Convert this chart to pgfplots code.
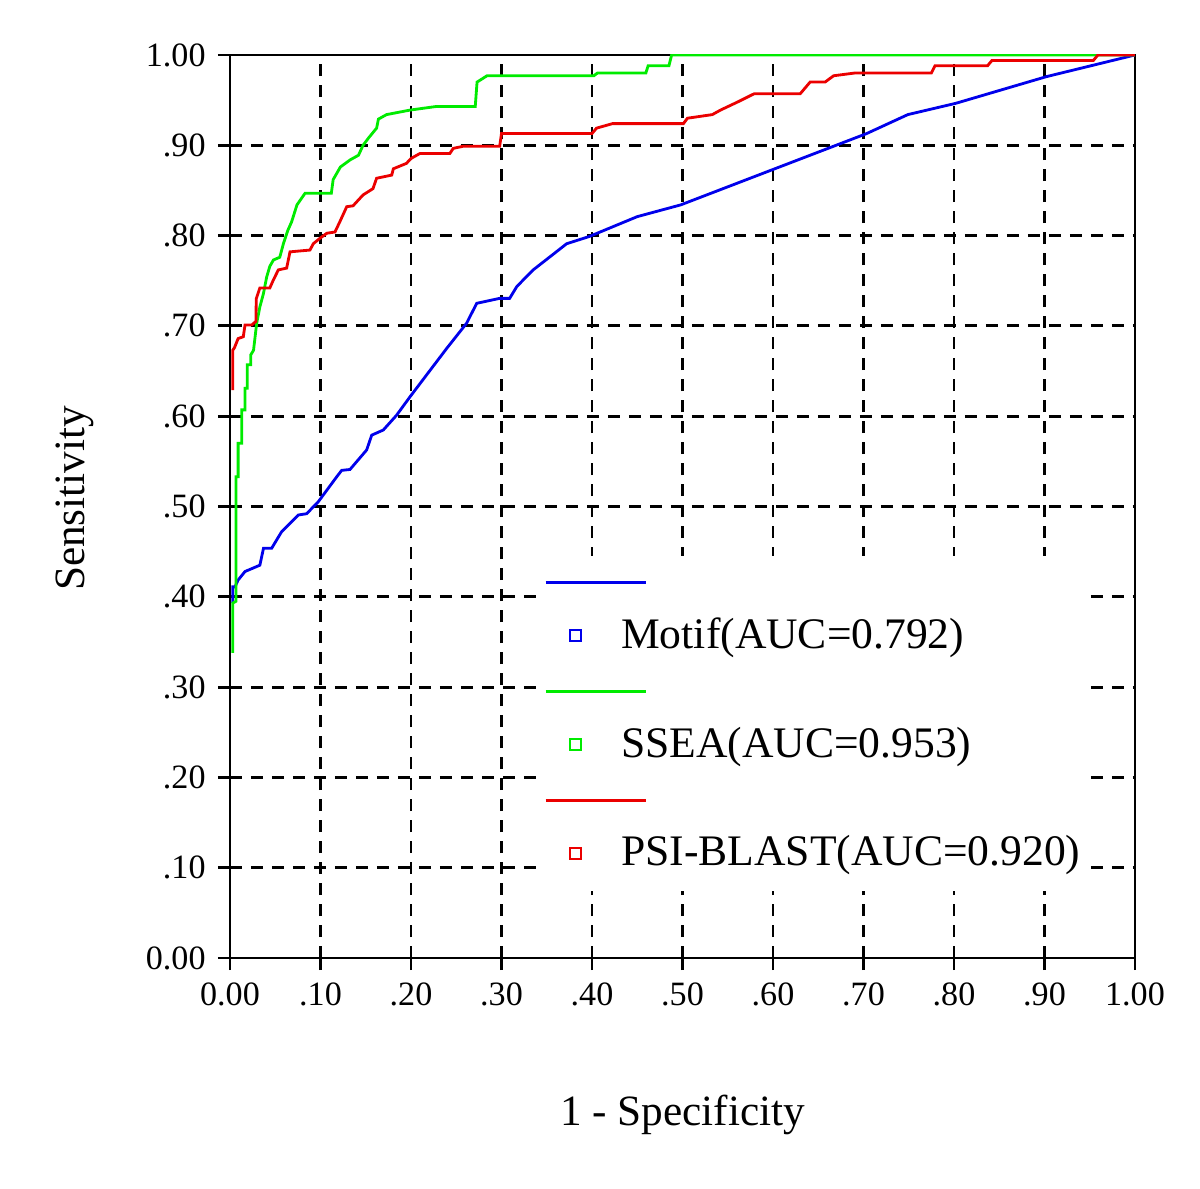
\documentclass[border=0pt]{standalone}
\usepackage{pgfplots}
\pgfplotsset{compat=1.18}
\usepackage{fontspec}
\setmainfont{Liberation Serif}

\definecolor{rocblue}{RGB}{0,0,235}
\definecolor{rocgreen}{RGB}{0,235,0}
\definecolor{rocred}{RGB}{235,0,0}

% legend entry: line above, small square beside the text
\pgfplotsset{
  roclegend/.style={
    legend image code/.code={
      \path[draw=none, fill=none] (-0.35cm,-0.06cm) rectangle (0.06cm,0.60cm);
      \draw[##1, overlay, line width=0.9pt] (-0.30cm,0.53cm) -- (0.70cm,0.53cm);
      \draw[##1, line width=0.6pt] (-0.055cm,-0.055cm) rectangle (0.055cm,0.055cm);
    }
  }
}

\begin{document}
\begin{tikzpicture}
\path[use as bounding box] (-2.30,-2.31) rectangle (9.70,9.58);
\begin{axis}[
  at={(0,0)}, anchor=south west,
  scale only axis,
  width=9.05cm, height=9.03cm,
  xmin=0, xmax=1, ymin=0, ymax=1,
  axis line style={black, line width=0.85pt},
  xtick={0,0.1,0.2,0.3,0.4,0.5,0.6,0.7,0.8,0.9,1},
  ytick={0,0.1,0.2,0.3,0.4,0.5,0.6,0.7,0.8,0.9,1},
  xticklabels={0.00,.10,.20,.30,.40,.50,.60,.70,.80,.90,1.00},
  yticklabels={0.00,.10,.20,.30,.40,.50,.60,.70,.80,.90,1.00},
  tick pos=left,
  tick align=outside,
  major tick length=0.12cm,
  tick style={black, line width=0.85pt},
  tick label style={font=\fontsize{9.7}{11}\selectfont},
  grid=major,
  major grid style={black, line width=0.85pt, dash pattern=on 0.12cm off 0.09cm},
  xlabel={1 - Specificity},
  ylabel={Sensitivity},
  every axis x label/.style={at={(axis description cs:0.5,-0.174)}, anchor=center, font=\fontsize{12.3}{14}\selectfont},
  every axis y label/.style={at={(axis description cs:-0.171,0.509)}, anchor=center, rotate=90, font=\fontsize{12.3}{14}\selectfont},
  roclegend,
  legend style={at={(axis cs:0.337,0.4463)}, anchor=north west, draw=none, fill=white,
    inner xsep=0.05cm, inner ysep=0.2cm, column sep=0.39cm, row sep=0.31cm,
    font=\fontsize{12.4}{14}\selectfont, nodes={inner sep=0pt}},
  legend cell align=left,
]

\addplot[rocblue, line width=0.8pt] coordinates {
(0.003,0.393) (0.003,0.411) (0.0055,0.411) (0.009,0.4186) (0.0166,0.428)
(0.033,0.435) (0.037,0.4537) (0.046,0.4537) (0.057,0.472) (0.0755,0.4906)
(0.0847,0.492) (0.0976,0.5053) (0.118,0.533) (0.1234,0.540) (0.1326,0.541)
(0.151,0.5626) (0.1566,0.579) (0.1694,0.5847) (0.184,0.601) (0.199,0.6216)
(0.2394,0.675) (0.2615,0.703) (0.2726,0.725) (0.298,0.7305) (0.309,0.7305)
(0.317,0.7437) (0.335,0.762) (0.358,0.780) (0.372,0.791) (0.397,0.799)
(0.450,0.821) (0.498,0.834) (0.602,0.874) (0.7035,0.913) (0.749,0.934)
(0.802,0.9465) (0.902,0.976) (1.0,1.0)
};
\addlegendentry{Motif(AUC=0.792)}

\addplot[rocgreen, line width=0.8pt] coordinates {
(0.003,0.338) (0.003,0.393) (0.0066,0.395) (0.0066,0.533) (0.009,0.533)
(0.009,0.570) (0.013,0.570) (0.013,0.607) (0.0166,0.607) (0.0166,0.631)
(0.019,0.631) (0.019,0.657) (0.023,0.657) (0.023,0.668) (0.026,0.673)
(0.0295,0.703) (0.033,0.721) (0.037,0.736) (0.0405,0.754) (0.044,0.766)
(0.048,0.773) (0.055,0.776) (0.059,0.791) (0.064,0.806) (0.068,0.815)
(0.074,0.834) (0.083,0.847) (0.112,0.847) (0.114,0.862) (0.122,0.876)
(0.133,0.884) (0.142,0.889) (0.147,0.900) (0.153,0.908) (0.162,0.919)
(0.164,0.929) (0.173,0.934) (0.199,0.939) (0.228,0.943) (0.271,0.943)
(0.273,0.970) (0.284,0.977) (0.402,0.977) (0.406,0.980) (0.4595,0.980)
(0.462,0.988) (0.485,0.988) (0.488,1.0) (1.0,1.0)
};
\addlegendentry{SSEA(AUC=0.953)}

\addplot[rocred, line width=0.8pt] coordinates {
(0.003,0.629) (0.003,0.673) (0.005,0.676) (0.009,0.686) (0.0147,0.688)
(0.0166,0.701) (0.024,0.701) (0.0287,0.705) (0.029,0.730) (0.033,0.742)
(0.044,0.742) (0.048,0.751) (0.0534,0.762) (0.0626,0.764) (0.0663,0.782)
(0.0884,0.784) (0.092,0.791) (0.0994,0.797) (0.107,0.8026) (0.116,0.804)
(0.1215,0.8156) (0.129,0.832) (0.136,0.833) (0.147,0.845) (0.158,0.852)
(0.162,0.8635) (0.1787,0.867) (0.1805,0.874) (0.195,0.880) (0.2,0.8854)
(0.21,0.891) (0.243,0.891) (0.2467,0.8966) (0.258,0.899) (0.298,0.899)
(0.300,0.913) (0.400,0.913) (0.405,0.919) (0.4227,0.924) (0.501,0.924)
(0.5055,0.930) (0.533,0.934) (0.542,0.939) (0.561,0.948) (0.579,0.957)
(0.630,0.957) (0.641,0.970) (0.6575,0.970) (0.667,0.977) (0.690,0.980)
(0.775,0.980) (0.779,0.988) (0.837,0.988) (0.842,0.994) (0.954,0.994)
(0.959,1.0) (1.0,1.0)
};
\addlegendentry{PSI-BLAST(AUC=0.920)}

\end{axis}
\end{tikzpicture}
\end{document}
